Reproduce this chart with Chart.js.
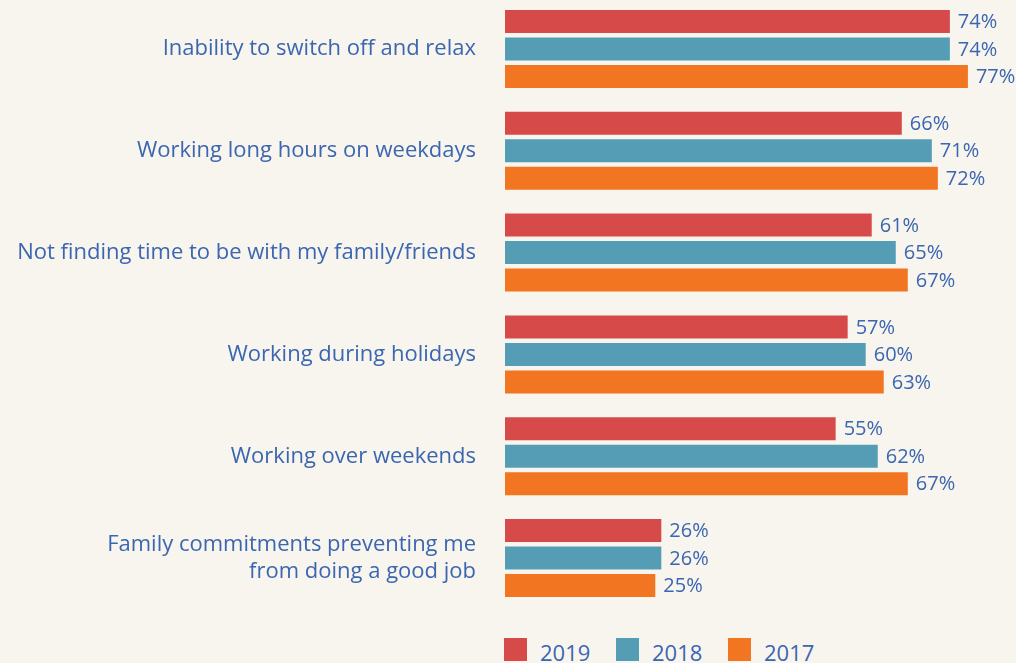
<!DOCTYPE html>
<html>
<head>
<meta charset="utf-8">
<script src="https://cdn.jsdelivr.net/npm/chart.js@4/dist/chart.umd.min.js"></script>
<style>
  html, body { margin: 0; padding: 0; background: #f8f5ee; overflow: hidden; }
  body { width: 1016px; height: 663px; position: relative; font-family: "Open Sans", sans-serif; }
  #chart { position: absolute; left: 0; top: -2px; }
  #legend { position: absolute; left: 504px; top: 638px; display: flex; color: #3b66b0; font-size: 22px; }
  #legend .item { display: flex; align-items: flex-start; width: 112px; }
  #legend .box { width: 23px; height: 23px; margin-right: 13px; }
  #legend span { line-height: 28px; }
</style>
</head>
<body>
<canvas id="chart" width="1016" height="611"></canvas>
<div id="legend"></div>
<script>
// categories (multi-line ones as arrays)
const categories = [
  'Inability to switch off and relax',
  'Working long hours on weekdays',
  'Not finding time to be with my family/friends',
  'Working during holidays',
  'Working over weekends',
  ['Family commitments preventing me', 'from doing a good job']
];
const years = ['2019', '2018', '2017'];
const values2019 = [74, 66, 61, 57, 55, 26];
const values2018 = [74, 71, 65, 60, 62, 26];
const values2017 = [77, 72, 67, 63, 67, 25];
const colors = ['#d64a4a', '#559db5', '#f27522'];

const textBlue = '#3b66b0';
const fontFamily = '"Open Sans", sans-serif';

// percentage labels at the end of each bar
const barLabels = {
  id: 'barLabels',
  afterDatasetsDraw(chart) {
    const ctx = chart.ctx;
    ctx.save();
    ctx.font = '20px ' + fontFamily;
    ctx.fillStyle = textBlue;
    ctx.textAlign = 'left';
    ctx.textBaseline = 'middle';
    chart.data.datasets.forEach((ds, i) => {
      chart.getDatasetMeta(i).data.forEach((bar, j) => {
        ctx.fillText(ds.data[j] + '%', bar.x + 8, bar.y + 1);
      });
    });
    ctx.restore();
  }
};

new Chart(document.getElementById('chart'), {
  type: 'bar',
  data: {
    labels: categories,
    datasets: [
      { label: years[0], data: values2019, backgroundColor: colors[0] },
      { label: years[1], data: values2018, backgroundColor: colors[1] },
      { label: years[2], data: values2017, backgroundColor: colors[2] }
    ]
  },
  options: {
    indexAxis: 'y',
    responsive: false,
    animation: false,
    categoryPercentage: 0.81,
    barPercentage: 0.836,
    layout: { padding: 0 },
    plugins: {
      legend: { display: false },
      tooltip: { enabled: false }
    },
    scales: {
      x: { display: false, min: 0, max: 85, ticks: { display: false } },
      y: {
        grid: { display: false, drawTicks: false },
        border: { display: false },
        // fixed label column so the bars start where they do in the original
        afterFit(scale) { scale.width = 505; scale.paddingTop = 0; scale.paddingBottom = 0; },
        ticks: {
          padding: 29,
          color: textBlue,
          font: { family: fontFamily, size: 22 }
        }
      }
    }
  },
  plugins: [barLabels]
});

// legend as html
const legend = document.getElementById('legend');
years.forEach((y, i) => {
  const item = document.createElement('div');
  item.className = 'item';
  item.innerHTML = '<div class="box" style="background:' + colors[i] + '"></div><span>' + y + '</span>';
  legend.appendChild(item);
});
</script>
</body>
</html>
